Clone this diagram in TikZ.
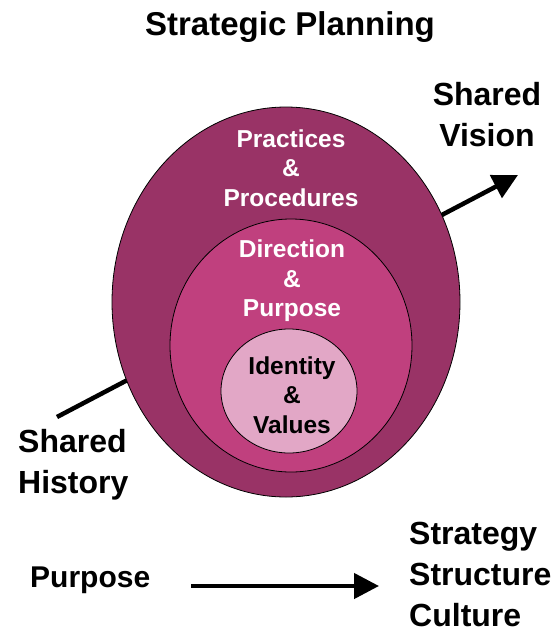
\documentclass[tikz,border=0pt]{standalone}
\usepackage{fontspec}
\setmainfont{Liberation Sans}
\usetikzlibrary{shapes.geometric,arrows.meta}

\definecolor{outerplum}{RGB}{153,51,102}
\definecolor{midplum}{RGB}{192,64,126}
\definecolor{innerpink}{RGB}{226,167,198}

\tikzset{
  ring/.style={ellipse, draw=black, line width=0.8pt, inner sep=0pt},
  bigtext/.style={font=\bfseries\fontsize{32}{41}\selectfont, align=left, inner sep=0pt},
  ringtext/.style={font=\bfseries\fontsize{24.5}{29.5}\selectfont, align=center, inner sep=0pt},
  fatarrow/.style={line width=4.5pt, -{Triangle[length=25pt,width=25pt]}}
}

\begin{document}
\begin{tikzpicture}[x=1pt, y=-1pt]
  \useasboundingbox (0,0) rectangle (556,633);

  % Title
  \node[bigtext, font=\bfseries\fontsize{33}{40}\selectfont] (title) at (290,27) {Strategic Planning};

  % Arrow from history to vision, behind the rings
  \coordinate (hist) at (57,417);
  \coordinate (vis) at (518,175);
  \draw[fatarrow] (hist) -- (vis);

  % Draw the rings
  \node[ring, fill=outerplum, minimum width=348pt, minimum height=390pt] (outer) at (286,302) {};
  \node[ring, fill=midplum, minimum width=242pt, minimum height=253pt] (middle) at (291,345.5) {};
  \node[ring, fill=innerpink, minimum width=136pt, minimum height=124pt] (inner) at (289,391) {};

  % Texts inside the rings
  \node[ringtext, text=white] (practices) at (291,168) {Practices\\\&\\Procedures};
  \node[ringtext, text=white] (direction) at (292,281) {Direction\\\&\\Purpose};
  \node[ringtext, text=black] (identity) at (292,395) {Identity\\\&\\Values};

  % Labels at the ends of the arrow
  \node[bigtext, align=center] (vision) at (487,115) {Shared\\Vision};
  \node[bigtext, anchor=west] (history) at (18,465) {Shared\\History};

  % Bottom row
  \node[bigtext, anchor=west, font=\bfseries\fontsize{30}{38}\selectfont] (purpose) at (30,580) {Purpose};
  \node[bigtext, anchor=west] (outcomes) at (409,574) {Strategy\\Structure\\Culture};
  \coordinate (pa) at (191,586);
  \coordinate (pb) at (379,586);
  \draw[fatarrow] (pa) -- (pb);
\end{tikzpicture}
\end{document}
